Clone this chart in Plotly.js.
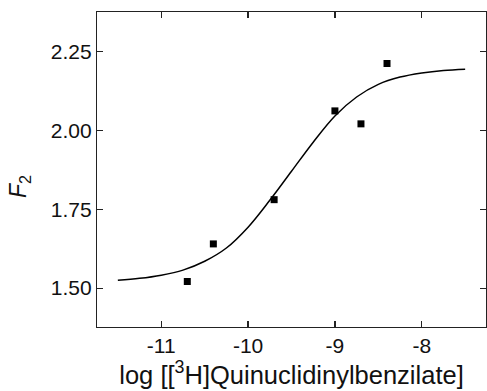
<!DOCTYPE html>
<html>
<head>
<meta charset="utf-8">
<script src="https://cdn.plot.ly/plotly-3.0.1.min.js"></script>
<style>html,body{margin:0;padding:0;background:#fff;}#chart{width:487px;height:391px;}</style>
</head>
<body>
<div id="chart"></div>
<script>
// Measured data points
const logConc = [-10.70, -10.40, -9.70, -9.00, -8.70, -8.40];
const f2Values = [1.521, 1.640, 1.780, 2.061, 2.020, 2.211];
// Fitted curve
const curveX = [-11.5, -11.25, -11.0, -10.75, -10.5, -10.25, -10.0, -9.75, -9.5, -9.25, -9.0, -8.75, -8.5, -8.25, -8.0, -7.75, -7.5];
const curveY = [1.525, 1.531, 1.541, 1.557, 1.585, 1.627, 1.693, 1.778, 1.870, 1.962, 2.045, 2.105, 2.145, 2.168, 2.181, 2.189, 2.193];
const xTicks = [-11, -10, -9, -8];
const yTicks = [1.50, 1.75, 2.00, 2.25];
const yTickText = ['1.50', '1.75', '2.00', '2.25'];

const font = 'Liberation Sans, Arial, sans-serif';
const ml = 97, mr = 1, mt = 12, mb = 64, W = 487, H = 391;
const pw = W - ml - mr, ph = H - mt - mb;

const traces = [
  {x: curveX, y: curveY, mode: 'lines', line: {color: '#000', width: 1.5, shape: 'spline'}, hoverinfo: 'skip'},
  {x: logConc, y: f2Values, mode: 'markers', marker: {symbol: 'square', size: 7, color: '#000'}}
];

const axisCommon = {
  showline: true, linecolor: '#222', linewidth: 1.2, mirror: 'ticks',
  ticks: 'inside', ticklen: 6, tickwidth: 1.2, tickcolor: '#222',
  showgrid: false, zeroline: false,
  tickfont: {family: font, size: 21, color: '#111'}
};

const layout = {
  width: W, height: H,
  margin: {l: ml, r: mr, t: mt, b: mb},
  paper_bgcolor: '#fff', plot_bgcolor: '#fff',
  showlegend: false,
  xaxis: Object.assign({}, axisCommon, {
    range: [-11.74, -7.26], tickvals: xTicks, ticktext: xTicks.map(String),
    title: {text: 'log [[<sup>3</sup>H]Quinuclidinylbenzilate]', font: {family: font, size: 25.5, color: '#111'}, standoff: 3}
  }),
  yaxis: Object.assign({}, axisCommon, {
    range: [1.377, 2.374], tickvals: yTicks, ticktext: yTickText
  }),
  annotations: [{
    text: '<i>F</i><sub>2</sub>', textangle: -90, showarrow: false,
    xref: 'paper', yref: 'paper', x: (19 - ml) / pw, y: (mt + ph - 187) / ph,
    xanchor: 'center', yanchor: 'middle',
    font: {family: font, size: 23, color: '#111'}
  }]
};

Plotly.newPlot('chart', traces, layout, {staticPlot: true, displayModeBar: false});
</script>
</body>
</html>
